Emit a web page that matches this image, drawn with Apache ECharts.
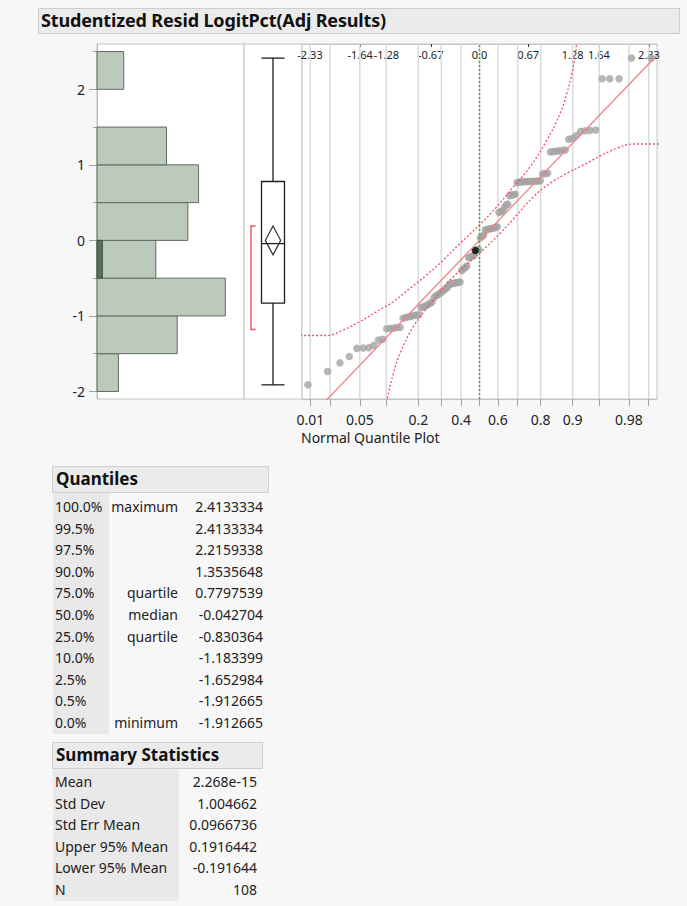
<!DOCTYPE html>
<html>
<head>
<meta charset="utf-8">
<script src="https://cdn.jsdelivr.net/npm/echarts@6/dist/echarts.min.js"></script>
<style>
  html, body { margin:0; padding:0; width:687px; height:906px; overflow:hidden; background:#f7f7f7;
    font-family:"Noto Sans", "DejaVu Sans", sans-serif; color:#222; }
  #title { position:absolute; left:38px; top:8px; width:642px; height:26px; box-sizing:border-box;
    background:#ebebeb; border:1px solid #cdcdcd; font-weight:bold; font-size:18px; line-height:23px; padding-left:2px; color:#111; letter-spacing:-0.15px; }
  #chart { position:absolute; left:0; top:0; width:687px; height:460px; }
  .hdr { position:absolute; box-sizing:border-box; background:#ebebeb; border:1px solid #cfcfcf;
    font-weight:bold; font-size:17px; line-height:24px; padding-left:3px; color:#111; }
  .shade { position:absolute; background:#e9e9e9; }
  .cell { position:absolute; font-size:14px; line-height:22px; height:22px; white-space:nowrap; color:#222; }
</style>
</head>
<body>
<div id="chart"></div>
<div id="title">Studentized Resid LogitPct(Adj Results)</div>
<div id="tables"></div>
<script>
// ---------------- data ----------------
const chartTitle = 'Studentized Resid LogitPct(Adj Results)';

// sorted studentized residuals (n = 108)
const qqResiduals = [
  -1.912665, -1.735, -1.622, -1.537, -1.43, -1.425, -1.42, -1.39, -1.32, -1.31,
  -1.16933, -1.165, -1.16, -1.155, -1.15, -1.03, -1.02, -1.01, -1.005, -0.995,
  -0.99, -0.985, -0.89, -0.88, -0.87, -0.85, -0.835, -0.816456, -0.76, -0.73,
  -0.72, -0.70, -0.68, -0.66, -0.64, -0.62, -0.58, -0.575, -0.57, -0.565,
  -0.56, -0.555, -0.55, -0.40, -0.38, -0.36, -0.34, -0.23, -0.22, -0.21,
  -0.20, -0.135, -0.125, -0.120008, 0.0346, 0.05, 0.07, 0.14, 0.145, 0.15,
  0.155, 0.16, 0.165, 0.17, 0.18, 0.37, 0.38, 0.39, 0.43, 0.47,
  0.48, 0.59, 0.60, 0.605, 0.61, 0.765, 0.77, 0.772, 0.775, 0.777,
  0.77905, 0.78, 0.781, 0.782, 0.784, 0.786, 0.79, 0.88, 0.885, 0.89,
  1.17, 1.175, 1.18, 1.185, 1.19, 1.195, 1.34, 1.35, 1.3856, 1.44,
  1.45, 1.455, 1.46, 2.141, 2.141, 2.14106, 2.4133334, 2.4133334
];
const selectedRank = 52;          // the highlighted (black) row

// histogram
const binEdges  = [-2, -1.5, -1, -0.5, 0, 0.5, 1, 1.5, 2, 2.5];
const binCounts = [4, 15, 24, 11, 17, 19, 13, 0, 5];
const selectedBinCounts = [0, 0, 0, 1, 0, 0, 0, 0, 0];

// axis ticks
const yMajorTicks = [-2, -1, 0, 1, 2];
const yMinorTicks = [-1.5, -0.5, 0.5, 1.5, 2.5];
const topTickValues = [-2.33, -1.64, -1.28, -0.67, 0, 0.67, 1.28, 1.64, 2.33];
const topTickLabels = ['-2.33', '-1.64', '-1.28', '-0.67', '0.0', '0.67', '1.28', '1.64', '2.33'];
const probGrid   = [0.01, 0.02, 0.05, 0.1, 0.2, 0.3, 0.4, 0.5, 0.6, 0.7, 0.8, 0.9, 0.95, 0.98, 0.99];
const probLabels = [0.01, 0.05, 0.2, 0.4, 0.6, 0.8, 0.9, 0.98];

// confidence bands: [normal quantile, residual]
const upperBand = [
  [-2.466, -1.259], [-2.099, -1.259], [-1.871, -1.184], [-1.641, -1.074], [-1.411, -0.942],
  [-1.183, -0.809], [-0.953, -0.633], [-0.724, -0.456], [-0.495, -0.258], [-0.265, -0.037],
  [0, 0.205], [0.239, 0.447], [0.468, 0.712], [0.697, 0.976], [0.927, 1.329],
  [1.110, 1.683], [1.202, 1.947], [1.271, 2.212], [1.316, 2.454], [1.34, 2.65]
];
const lowerBand = [
  [-1.275, -2.2], [-1.265, -2.088], [-1.183, -1.757], [-1.091, -1.492], [-0.908, -1.140],
  [-0.633, -0.787], [-0.358, -0.479], [0, -0.17], [0.285, 0.095], [0.514, 0.337],
  [0.743, 0.58], [0.972, 0.757], [1.202, 0.889], [1.431, 0.999], [1.660, 1.118],
  [1.890, 1.22], [2.118, 1.276], [2.466, 1.276]
];

// quantiles table
const quantileLevels = ['100.0%', '99.5%', '97.5%', '90.0%', '75.0%', '50.0%', '25.0%', '10.0%', '2.5%', '0.5%', '0.0%'];
const quantileNames  = ['maximum', '', '', '', 'quartile', 'median', 'quartile', '', '', '', 'minimum'];
const quantileValues = [2.4133334, 2.4133334, 2.2159338, 1.3535648, 0.7797539, -0.042704, -0.830364, -1.183399, -1.652984, -1.912665, -1.912665];

// summary statistics
const summaryLabels = ['Mean', 'Std Dev', 'Std Err Mean', 'Upper 95% Mean', 'Lower 95% Mean', 'N'];
const summaryValues = [2.268e-15, 1.004662, 0.0966736, 0.1916442, -0.191644, 108];

// shortest half bracket
const shortestHalf = [-1.18, 0.19];

// ---------------- helpers ----------------
function normInv(p) { // Acklam's inverse normal CDF (normal quantile scale)
  const a = [-3.969683028665376e+01, 2.209460984245205e+02, -2.759285104469687e+02, 1.383577518672690e+02, -3.066479806614716e+01, 2.506628277459239e+00];
  const b = [-5.447609879822406e+01, 1.615858368580409e+02, -1.556989798598866e+02, 6.680131188771972e+01, -1.328068155288572e+01];
  const c = [-7.784894002430293e-03, -3.223964580411365e-01, -2.400758277161838e+00, -2.549732539343734e+00, 4.374664141464968e+00, 2.938163982698783e+00];
  const d = [7.784695709041462e-03, 3.224671290700398e-01, 2.445134137142996e+00, 3.754408661907416e+00];
  const pl = 0.02425, ph = 1 - pl;
  let q, r;
  if (p < pl) { q = Math.sqrt(-2 * Math.log(p));
    return (((((c[0]*q+c[1])*q+c[2])*q+c[3])*q+c[4])*q+c[5]) / ((((d[0]*q+d[1])*q+d[2])*q+d[3])*q+1); }
  if (p <= ph) { q = p - 0.5; r = q * q;
    return (((((a[0]*r+a[1])*r+a[2])*r+a[3])*r+a[4])*r+a[5])*q / (((((b[0]*r+b[1])*r+b[2])*r+b[3])*r+b[4])*r+1); }
  q = Math.sqrt(-2 * Math.log(1 - p));
  return -(((((c[0]*q+c[1])*q+c[2])*q+c[3])*q+c[4])*q+c[5]) / ((((d[0]*q+d[1])*q+d[2])*q+d[3])*q+1);
}

const Y_MIN = -2.1, Y_MAX = 2.6;
const Z_MIN = -2.44, Z_MAX = 2.44;
const FONT = '"Noto Sans", "DejaVu Sans", sans-serif';
const n = qqResiduals.length;
const qqPoints = qqResiduals.map((v, i) => [normInv((i + 1) / (n + 1)), v]);
const selPoint = [qqPoints[selectedRank - 1]];
const grayPoints = qqPoints.filter((p, i) => i !== selectedRank - 1);
const meanVal = summaryValues[0], sdVal = summaryValues[1];

const histData = binCounts.map((c, i) => [binEdges[i], binEdges[i + 1], c]).filter(d => d[2] > 0);
const selData = selectedBinCounts.map((c, i) => [binEdges[i], binEdges[i + 1], c]).filter(d => d[2] > 0);

function rectItem(fill, stroke) {
  return function (params, api) {
    const lo = api.value(0), hi = api.value(1), cnt = api.value(2);
    const p1 = api.coord([0, hi]), p2 = api.coord([cnt, lo]);
    return { type: 'rect', shape: { x: p1[0], y: p1[1], width: p2[0] - p1[0], height: p2[1] - p1[1] },
      style: { fill: fill, stroke: stroke, lineWidth: 1 } };
  };
}

const frame = '#c4c4c4';
const chart = echarts.init(document.getElementById('chart'), null, { renderer: 'svg' });
chart.setOption({
  animation: false,
  backgroundColor: 'transparent',
  textStyle: { fontFamily: FONT },
  grid: [
    { left: 97, top: 44, width: 147, height: 355, show: true, backgroundColor: '#fff', borderColor: frame, borderWidth: 1, outerBoundsMode: 'none' },
    { left: 244, top: 44, width: 58, height: 355, show: true, backgroundColor: '#fff', borderColor: frame, borderWidth: 1, outerBoundsMode: 'none' },
    { left: 302, top: 44, width: 355, height: 355, show: true, backgroundColor: '#fff', borderColor: frame, borderWidth: 1, outerBoundsMode: 'none' }
  ],
  xAxis: [
    { gridIndex: 0, type: 'value', min: 0, max: 27.5, show: false },
    { gridIndex: 1, type: 'value', min: 0, max: 58, show: false },
    { gridIndex: 2, type: 'value', min: Z_MIN, max: Z_MAX, position: 'bottom',
      axisLine: { show: true, onZero: false, lineStyle: { color: frame } },
      axisTick: { show: true, customValues: probGrid.map(normInv), length: 7, lineStyle: { color: '#a0a0a0' } },
      axisLabel: { customValues: probLabels.map(normInv), margin: 13, fontSize: 14, color: '#222', fontFamily: FONT,
        formatter: v => { const i = probLabels.findIndex(p => Math.abs(normInv(p) - v) < 1e-6); return i >= 0 ? String(probLabels[i]) : ''; } },
      splitLine: { show: false } },
    { gridIndex: 2, type: 'value', min: Z_MIN, max: Z_MAX, position: 'top',
      axisLine: { show: true, onZero: false, lineStyle: { color: frame } },
      axisTick: { show: true, inside: true, customValues: topTickValues, length: 3, lineStyle: { color: '#333' } },
      axisLabel: { inside: true, customValues: topTickValues, margin: 5, fontSize: 11, color: '#222', fontFamily: FONT,
        formatter: v => { const i = topTickValues.findIndex(t => Math.abs(t - v) < 1e-6); return i >= 0 ? topTickLabels[i] : ''; } },
      splitLine: { show: false } }
  ],
  yAxis: [
    { gridIndex: 0, type: 'value', min: Y_MIN, max: Y_MAX, position: 'left',
      axisLine: { show: true, onZero: false, lineStyle: { color: '#b8b8b8' } },
      axisTick: { show: true, customValues: yMajorTicks, length: 8, lineStyle: { color: '#a0a0a0' } },
      axisLabel: { customValues: yMajorTicks, margin: 12, fontSize: 14, color: '#222', fontFamily: FONT },
      splitLine: { show: false } },
    { gridIndex: 0, type: 'value', min: Y_MIN, max: Y_MAX, position: 'left',
      axisLine: { show: false, onZero: false },
      axisTick: { show: true, customValues: yMinorTicks, length: 4, lineStyle: { color: '#a0a0a0' } },
      axisLabel: { show: false }, splitLine: { show: false } },
    { gridIndex: 1, type: 'value', min: Y_MIN, max: Y_MAX, show: false },
    { gridIndex: 2, type: 'value', min: Y_MIN, max: Y_MAX, show: false }
  ],
  series: [
    { type: 'custom', xAxisIndex: 0, yAxisIndex: 0, data: histData, renderItem: rectItem('#bccabc', '#5f6c5f'), silent: true },
    { type: 'custom', xAxisIndex: 0, yAxisIndex: 0, data: selData, renderItem: rectItem('#58725a', '#3f553f'), silent: true },
    // outlier box plot, means diamond, shortest half bracket
    { type: 'custom', xAxisIndex: 1, yAxisIndex: 2, data: [[0, 0]], silent: true,
      renderItem: (params, api) => {
        const P = (x, v) => api.coord([x, v]);
        const q = quantileValues;
        const vmax = q[0], q3 = q[4], med = q[5], q1 = q[6], vmin = q[10];
        const up = summaryValues[3], lo = summaryValues[4];
        const cx = 29, bl = 17.5, br = 40.5, dw = 7.7;
        const dark = '#1e1e1e';
        const line = (x1, v1, x2, v2, stroke, lw) => { const a = P(x1, v1), b = P(x2, v2);
          return { type: 'line', shape: { x1: a[0], y1: a[1], x2: b[0], y2: b[1] }, style: { stroke: stroke || dark, lineWidth: lw || 1.3 } }; };
        const a = P(bl, q3), b = P(br, q1);
        const s1 = P(11.5, shortestHalf[1]), s2 = P(7, shortestHalf[1]), s3 = P(7, shortestHalf[0]), s4 = P(11.5, shortestHalf[0]);
        return { type: 'group', children: [
          line(cx, q3, cx, vmax), line(cx, q1, cx, vmin),
          line(bl, vmax, br, vmax), line(bl, vmin, br, vmin),
          { type: 'rect', shape: { x: a[0], y: a[1], width: b[0] - a[0], height: b[1] - a[1] }, style: { fill: 'none', stroke: dark, lineWidth: 1.3 } },
          line(bl, med, br, med),
          { type: 'polygon', shape: { points: [P(cx, up), P(cx + dw, meanVal), P(cx, lo), P(cx - dw, meanVal)] }, style: { fill: 'none', stroke: '#333', lineWidth: 1.2 } },
          { type: 'polyline', shape: { points: [s1, s2, s3, s4] }, style: { fill: 'none', stroke: '#ee5a6b', lineWidth: 1.5 } }
        ] };
      } },
    // probability grid lines
    { type: 'custom', xAxisIndex: 2, yAxisIndex: 3, data: probGrid.map(p => [normInv(p), 0]), silent: true,
      renderItem: (params, api) => { const a = api.coord([api.value(0), Y_MIN]), b = api.coord([api.value(0), Y_MAX]);
        return { type: 'line', shape: { x1: a[0], y1: a[1], x2: b[0], y2: b[1] }, style: { stroke: '#dadada', lineWidth: 1.5 } }; } },
    { type: 'scatter', xAxisIndex: 2, yAxisIndex: 3, data: grayPoints, symbolSize: 7.5, itemStyle: { color: '#a4a4a4' }, silent: true },
    { type: 'line', xAxisIndex: 2, yAxisIndex: 3, data: upperBand, smooth: 0.4, showSymbol: false, clip: true, silent: true,
      lineStyle: { color: '#f0506a', width: 1.3, type: [2, 2] } },
    { type: 'line', xAxisIndex: 2, yAxisIndex: 3, data: lowerBand, smooth: 0.4, showSymbol: false, clip: true, silent: true,
      lineStyle: { color: '#f0506a', width: 1.3, type: [2, 2] } },
    { type: 'line', xAxisIndex: 2, yAxisIndex: 3, data: [[Z_MIN, meanVal + sdVal * Z_MIN], [Z_MAX, meanVal + sdVal * Z_MAX]],
      showSymbol: false, clip: true, silent: true, lineStyle: { color: '#f08088', width: 1.3 } },
    { type: 'line', xAxisIndex: 2, yAxisIndex: 3, data: [[0, Y_MIN], [0, Y_MAX]], showSymbol: false, silent: true,
      lineStyle: { color: '#30b840', width: 1.5, type: [2, 2] } },
    { type: 'scatter', xAxisIndex: 2, yAxisIndex: 3, data: selPoint, symbolSize: 7.5, itemStyle: { color: '#000' }, silent: true }
  ],
  graphic: [
    { type: 'text', left: 301, top: 430, style: { text: 'Normal Quantile Plot', fontSize: 14, fill: '#222', fontFamily: FONT } }
  ]
});

// ---------------- tables ----------------
const T = document.getElementById('tables');
function box(cls, l, t, w, h, text) {
  const d = document.createElement('div'); d.className = cls;
  Object.assign(d.style, { left: l + 'px', top: t + 'px', width: w + 'px', height: h + 'px' });
  if (text) d.textContent = text; T.appendChild(d); return d;
}
function cell(text, x, cy, align) {
  const d = document.createElement('div'); d.className = 'cell'; d.textContent = text;
  d.style.top = (cy - 11) + 'px';
  if (align === 'right') { d.style.right = (687 - x) + 'px'; d.style.textAlign = 'right'; }
  else d.style.left = x + 'px';
  T.appendChild(d);
}
// Quantiles
box('hdr', 52, 466, 217, 27, 'Quantiles');
box('shade', 53, 493, 56, 241);
quantileLevels.forEach((lvl, i) => {
  const cy = 507 + i * 21.6;
  cell(lvl, 55, cy, 'left');
  if (quantileNames[i]) cell(quantileNames[i], 178, cy, 'right');
  cell(String(quantileValues[i]), 263, cy, 'right');
});
// Summary statistics
box('hdr', 52, 742, 211, 27, 'Summary Statistics');
box('shade', 53, 769, 126, 132);
summaryLabels.forEach((lab, i) => {
  const cy = 782 + i * 21.6;
  cell(lab, 55, cy, 'left');
  cell(String(summaryValues[i]), 257, cy, 'right');
});
</script>
</body>
</html>
